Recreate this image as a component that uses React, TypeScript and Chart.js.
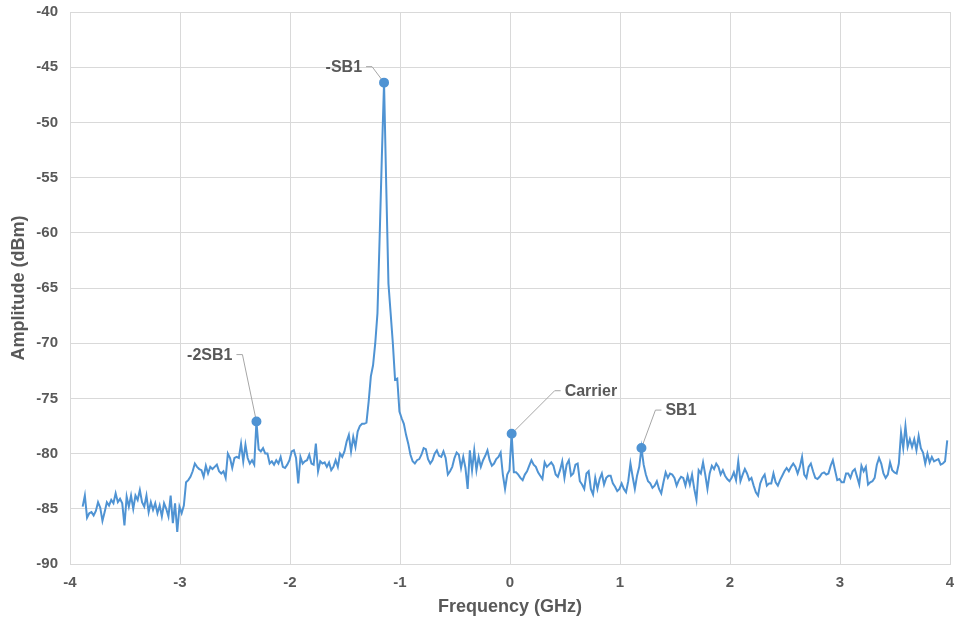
import { useEffect, useRef } from "react";
import { Chart, registerables } from "chart.js";

Chart.register(...registerables);

// Sweep grid (GHz)
const FREQ_START = -3.885;
const FREQ_STEP = 0.02;

// Amplitude (dBm)
const ampLowBand = [
  -84.8, -83.8, -85.8, -85.4, -85.3, -85.6, -85.2, -84.4, -84.9, -86.1,
  -85.3, -84.4, -84.7, -84.2, -84.5, -83.6, -84.4, -84.1, -84.5, -86.5,
  -83.9, -84.8, -83.8, -85.0, -83.8, -84.2, -83.3, -84.4, -84.8, -83.8,
  -85.3, -84.4, -85.1, -84.5, -85.4, -84.7, -85.7, -84.5, -85.0, -85.7,
  -83.8, -86.3, -84.5, -87.1, -84.8, -85.4, -84.7, -82.6,
];
const ampBeforeSB2 = [
  -82.4, -82.1, -81.6, -80.9, -81.2, -81.4, -81.5, -82.1, -81.1, -81.8,
  -81.2, -81.4, -81.2, -81.0, -81.6, -81.8, -81.6, -82.2, -80.0, -80.4,
  -81.3, -80.4, -80.3, -80.4, -79.1, -80.7, -79.2, -80.4, -80.9, -80.6,
  -81.0,
];
const ampSB2 = [-77.1];
const ampBeforeSB1Neg = [
  -79.6, -79.8, -79.5, -80.0, -80.0, -80.9, -80.7, -81.0, -80.6, -80.9,
  -80.3, -81.2, -81.3, -81.0, -80.6, -79.8, -79.7, -80.4, -82.7,
  -80.3, -80.9, -80.7, -80.6, -80.1, -80.9, -81.0, -79.1, -81.6, -80.7,
  -80.9, -80.8, -81.2, -80.8, -81.5, -81.2, -80.6, -81.2, -80.0, -80.3,
  -79.8, -78.9, -78.3, -79.8, -78.5, -79.4, -78.0, -77.5, -77.3, -77.3,
  -77.2, -75.3, -73.0, -72.0, -70.0, -67.3, -60.4, -53.1,
];
const ampSB1Neg = [-46.4];
const ampBeforeCarrier = [
  -55.8, -64.6, -67.3, -70.0, -73.3, -73.2, -76.2, -76.8, -77.3, -78.3,
  -79.1, -80.1, -80.7, -80.9, -80.6,
  -80.5, -80.1, -79.5, -79.6, -80.5, -80.9, -80.6, -80.0, -79.7, -80.2,
  -80.3, -79.8, -80.4, -81.9, -81.6, -81.2, -80.4, -79.9, -80.1, -81.3,
  -80.3, -81.3, -83.2, -79.7, -81.5, -79.7, -81.5, -80.3, -81.2, -80.6,
  -80.2, -79.7, -80.6, -81.1, -80.9, -80.5, -80.3, -79.9, -81.9, -83.2,
  -81.9, -81.5,
];
const ampCarrier = [-78.2];
const ampBeforeSB1 = [
  -81.7, -81.7, -81.9, -82.2, -82.4, -81.9, -81.6, -81.1, -80.6, -81.0,
  -81.2, -81.7, -82.0, -82.3, -80.8, -81.2, -81.0, -80.8, -81.1, -81.9,
  -82.1, -81.5, -80.7, -82.2, -81.0, -80.6, -82.0, -81.8, -81.0, -80.9,
  -82.5, -82.8, -83.2, -81.8, -81.6, -83.2, -83.7, -82.2, -83.2, -82.3,
  -81.8, -82.8, -82.2, -82.0, -82.0, -82.7, -83.0, -83.4, -83.2, -82.7,
  -83.2,
  -83.5, -82.5, -80.9, -82.1, -83.2, -82.0, -81.2,
];
const ampSB1 = [-79.5];
const ampHighBand = [
  -81.0, -81.9, -82.5, -82.7, -83.1, -82.9, -82.5, -83.2, -83.6, -82.6,
  -81.7, -82.2, -81.8, -81.9, -82.2, -82.9, -82.4, -82.1, -82.2, -82.9,
  -82.0, -82.8, -81.9, -83.2, -84.2, -81.5, -81.8, -80.8, -81.9, -83.2,
  -81.8, -81.1, -81.4, -80.9, -81.2, -81.9, -81.5, -82.0, -82.3, -82.5,
  -82.2, -81.7,
  -82.4, -80.7, -82.5, -81.9, -81.4, -81.8, -82.4, -82.2, -82.9, -83.5,
  -83.8, -82.7, -82.2, -81.9, -82.9, -82.7, -82.7, -81.8, -82.6, -82.9,
  -82.4, -82.0, -81.6, -81.3, -81.6, -81.2, -80.9, -81.2, -81.8, -81.2,
  -80.3, -81.9, -82.2, -81.2, -80.9, -81.6, -82.2, -82.3, -82.1, -81.8,
  -81.7, -81.9, -81.8, -81.1, -80.6, -81.5, -82.4, -82.3, -82.6, -82.6,
];
const ampTopBand = [
  -81.8, -81.8, -82.2, -81.6, -81.4, -82.1, -82.8, -81.1, -81.6, -81.2,
  -82.8, -82.6, -82.5, -82.2, -81.0, -80.4, -80.9, -81.8, -82.2, -81.9,
  -80.8, -81.5, -81.7, -81.8, -80.9, -78.1, -79.5, -77.5, -79.4, -78.7,
  -79.4, -78.7, -79.7, -78.4, -79.5, -79.9, -80.9, -80.0, -80.8, -80.3,
  -80.7, -80.6, -80.5, -81.0, -80.9, -80.7, -78.8,
];

const amplitude: number[] = [
  ...ampLowBand, ...ampBeforeSB2, ...ampSB2, ...ampBeforeSB1Neg, ...ampSB1Neg,
  ...ampBeforeCarrier, ...ampCarrier, ...ampBeforeSB1, ...ampSB1, ...ampHighBand, ...ampTopBand,
];
const frequency: number[] = amplitude.map((_, i) => +(FREQ_START + i * FREQ_STEP).toFixed(3));

// Labelled tones
const toneLabels = ["-2SB1", "-SB1", "Carrier", "SB1"];
const toneIndex = [
  ampLowBand.length + ampBeforeSB2.length,
  ampLowBand.length + ampBeforeSB2.length + 1 + ampBeforeSB1Neg.length,
  ampLowBand.length + ampBeforeSB2.length + 1 + ampBeforeSB1Neg.length + 1 + ampBeforeCarrier.length,
  ampLowBand.length + ampBeforeSB2.length + 1 + ampBeforeSB1Neg.length + 1 + ampBeforeCarrier.length + 1 + ampBeforeSB1.length,
];

// Axis ticks
const xMin = -4, xMax = 4, xStep = 1;
const yMin = -90, yMax = -40, yStep = 5;

// Callout styling (pixel offsets from the marker)
const calloutDx = [-14, -12, 43, 14];
const calloutDy = [-67, -16, -43, -38];
const calloutSide = [-1, -1, 1, 1];

const LINE_COLOR = "#4F93D3";
const TEXT_COLOR = "#595959";
const GRID_COLOR = "#D9D9D9";
const LEADER_COLOR = "#A6A6A6";
const FONT = "'Liberation Sans', Arial, sans-serif";

const calloutPlugin = {
  id: "callouts",
  beforeDatasetsDraw(chart: any) {
    const meta = chart.getDatasetMeta(0);
    const ctx = chart.ctx;
    ctx.save();
    ctx.strokeStyle = LEADER_COLOR;
    ctx.lineWidth = 1;
    toneIndex.forEach((idx, i) => {
      const el = meta.data[idx];
      if (!el) return;
      const ex = el.x + calloutDx[i];
      const ey = el.y + calloutDy[i];
      ctx.beginPath();
      ctx.moveTo(el.x, el.y);
      ctx.lineTo(ex, ey);
      ctx.lineTo(ex + calloutSide[i] * 6, ey);
      ctx.stroke();
    });
    ctx.restore();
  },
  afterDatasetsDraw(chart: any) {
    const meta = chart.getDatasetMeta(0);
    const ctx = chart.ctx;
    ctx.save();
    ctx.fillStyle = TEXT_COLOR;
    ctx.font = `bold 16px ${FONT}`;
    ctx.textBaseline = "middle";
    toneIndex.forEach((idx, i) => {
      const el = meta.data[idx];
      if (!el) return;
      const ex = el.x + calloutDx[i] + calloutSide[i] * 10;
      const ey = el.y + calloutDy[i];
      ctx.textAlign = calloutSide[i] < 0 ? "right" : "left";
      ctx.fillText(toneLabels[i], ex, ey + 1);
    });
    ctx.restore();
  },
};

export default function App() {
  const canvasRef = useRef<HTMLCanvasElement | null>(null);

  useEffect(() => {
    const canvas = canvasRef.current;
    if (!canvas) return;
    const radii = amplitude.map((_, i) => (toneIndex.includes(i) ? 4 : 0));
    const chart = new Chart(canvas, {
      type: "line",
      data: {
        datasets: [
          {
            data: frequency.map((f, i) => ({ x: f, y: amplitude[i] })),
            borderColor: LINE_COLOR,
            backgroundColor: LINE_COLOR,
            borderWidth: 2,
            pointRadius: radii,
            pointHoverRadius: radii,
            pointBackgroundColor: LINE_COLOR,
            pointBorderColor: LINE_COLOR,
            tension: 0,
            fill: false,
          },
        ],
      },
      options: {
        responsive: false,
        animation: false,
        layout: { padding: { top: 12, right: 5, left: 0, bottom: 0 } },
        plugins: {
          legend: { display: false },
          tooltip: { enabled: false },
        },
        scales: {
          x: {
            type: "linear",
            min: xMin,
            max: xMax,
            grid: { color: GRID_COLOR, drawTicks: false, lineWidth: 1 },
            border: { color: GRID_COLOR },
            ticks: {
              stepSize: xStep,
              padding: 10,
              color: TEXT_COLOR,
              font: { family: FONT, size: 15, weight: "bold" },
            },
            title: {
              display: true,
              text: "Frequency (GHz)",
              color: TEXT_COLOR,
              font: { family: FONT, size: 18, weight: "bold" },
              padding: { top: 0, bottom: 4 },
            },
            afterFit: (s: any) => {
              s.height = 58;
              s.paddingLeft = 0;
              s.paddingRight = 0;
            },
          },
          y: {
            type: "linear",
            min: yMin,
            max: yMax,
            grid: { color: GRID_COLOR, drawTicks: false, lineWidth: 1 },
            border: { color: GRID_COLOR },
            ticks: {
              stepSize: yStep,
              padding: 12,
              color: TEXT_COLOR,
              font: { family: FONT, size: 15, weight: "bold" },
            },
            title: {
              display: true,
              text: "Amplitude (dBm)",
              color: TEXT_COLOR,
              font: { family: FONT, size: 18, weight: "bold" },
              padding: { top: 8, bottom: 0 },
            },
            afterFit: (s: any) => {
              s.width = 70;
              s.paddingTop = 0;
              s.paddingBottom = 0;
            },
          },
        },
      },
      plugins: [calloutPlugin],
    });
    return () => chart.destroy();
  }, []);

  return (
    <div style={{ position: "fixed", left: 0, top: 0, width: 955, height: 622, background: "#fff" }}>
      <canvas ref={canvasRef} width={955} height={622} style={{ display: "block" }} />
    </div>
  );
}
